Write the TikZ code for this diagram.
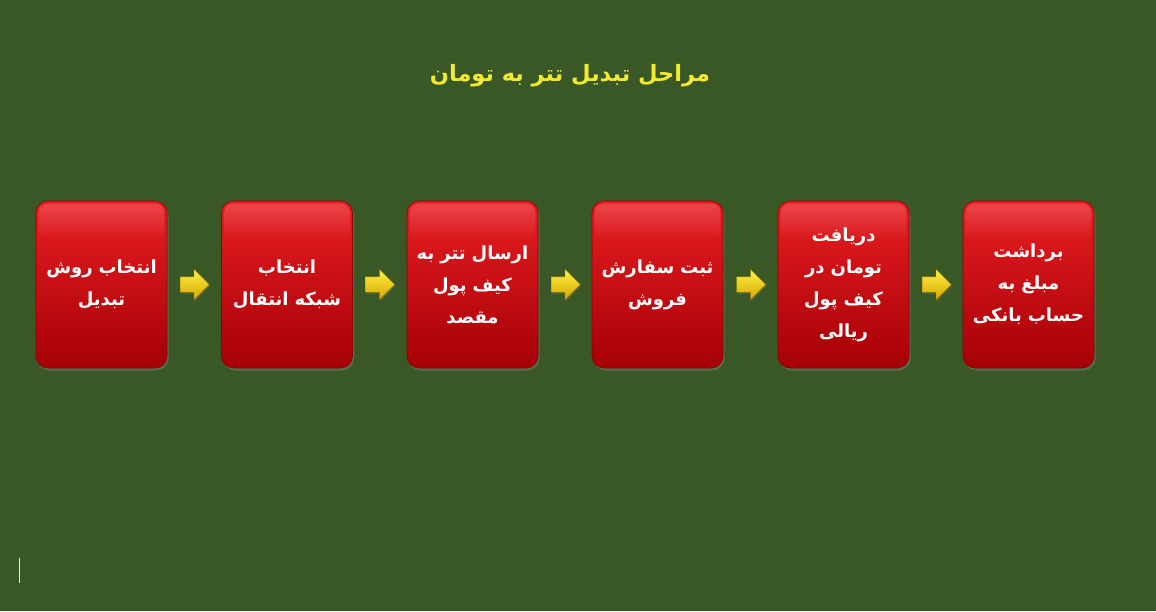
\documentclass[tikz,border=0pt]{standalone}
\usepackage{fontspec}
\newfontfamily\arabicfont[Script=Arabic]{DejaVu Sans}
\TeXXeTstate=1
\usetikzlibrary{shapes.arrows,shadows,fadings}
\definecolor{bg}{RGB}{58,88,38}
\definecolor{boxtop}{RGB}{232,30,34}
\definecolor{boxbot}{RGB}{165,0,6}
\definecolor{boxedge}{RGB}{140,0,0}
\definecolor{titlecol}{RGB}{242,234,46}
\definecolor{arrtop}{RGB}{255,242,70}
\definecolor{arrbot}{RGB}{215,165,0}
\newcommand{\rl}[1]{\beginR #1\endR}
\tikzset{
  stepbox/.style={rectangle, rounded corners=12pt, minimum width=131pt, minimum height=167pt,
    top color=boxtop, bottom color=boxbot, draw=boxedge, line width=0.6pt,
    drop shadow={opacity=0.45, shadow xshift=1.5pt, shadow yshift=-2.5pt},
    text=white, font=\arabicfont\bfseries\fontsize{18}{32}\selectfont, align=center, text width=126pt, inner sep=0pt},
  gloss/.style={white, opacity=0.18, rounded corners=9pt, path fading=south},
  arr/.style={single arrow, minimum height=29pt, minimum width=30pt, single arrow head extend=7.5pt,
    inner xsep=0pt, inner ysep=7.5pt, top color=arrtop, bottom color=arrbot, draw=arrbot!80!black, line width=0.4pt,
    drop shadow={opacity=0.35, shadow xshift=1pt, shadow yshift=-1.5pt}, anchor=west},
  titlestyle/.style={text=titlecol, font=\arabicfont\bfseries\fontsize{22.5}{26}\selectfont, inner sep=0pt}
}
\begin{document}
\begin{tikzpicture}[x=1pt,y=-1pt]
\fill[bg] (0,0) rectangle (1156,611);
\useasboundingbox (0,0) rectangle (1156,611);
\node[titlestyle] (title) at (570,76) {\rl{مراحل تبدیل تتر به تومان}};
\node[stepbox] (s1) at (101.5,284.5) {\rl{انتخاب روش}\\\rl{تبدیل}};
\node[stepbox] (s2) at (287,284.5) {\rl{انتخاب}\\\rl{شبکه انتقال}};
\node[stepbox] (s3) at (472.5,284.5) {\rl{ارسال تتر به}\\\rl{کیف پول}\\\rl{مقصد}};
\node[stepbox] (s4) at (657.5,284.5) {\rl{ثبت سفارش}\\\rl{فروش}};
\node[stepbox] (s5) at (843.5,284.5) {\rl{دریافت}\\\rl{تومان در}\\\rl{کیف پول}\\\rl{ریالی}};
\node[stepbox] (s6) at (1028.5,284.5) {\rl{برداشت}\\\rl{مبلغ به}\\\rl{حساب بانکی}};
\foreach \n in {s1,s2,s3,s4,s5,s6}{
  \fill[gloss] ([xshift=3pt,yshift=-3pt]\n.north west) rectangle ([xshift=-3pt,yshift=-40pt]\n.north east);
}
\node[arr] (a1) at (180,284.5) {};
\node[arr] (a2) at (365.5,284.5) {};
\node[arr] (a3) at (551,284.5) {};
\node[arr] (a4) at (736.5,284.5) {};
\node[arr] (a5) at (922,284.5) {};
\draw[white!85!gray, line width=1pt] (19,558) -- (19,583);
\end{tikzpicture}
\end{document}
